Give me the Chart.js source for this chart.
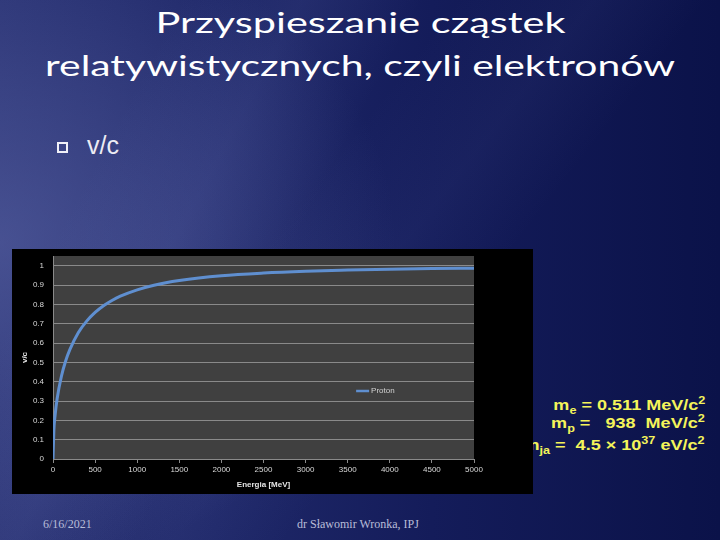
<!DOCTYPE html>
<html>
<head>
<meta charset="utf-8">
<script src="https://cdn.jsdelivr.net/npm/chart.js@4.4.1/dist/chart.umd.min.js"></script>
<style>
  html, body { margin:0; padding:0; }
  body { width:720px; height:540px; overflow:hidden; position:relative;
    background:
      linear-gradient(118deg, rgba(0,0,0,0) 18%, rgba(120,130,200,0.10) 30%, rgba(0,0,0,0) 42%),
      linear-gradient(128deg, rgba(0,0,0,0) 40%, rgba(110,120,190,0.07) 52%, rgba(0,0,0,0) 62%),
      radial-gradient(ellipse 55% 60% at 0% 45%, rgba(95,105,170,0.55), rgba(95,105,170,0) 100%),
      linear-gradient(90deg, #2a3374 0%, #1f2869 30%, #141c5a 60%, #0b1249 100%);
  }
  .title { position:absolute; left:0; width:720px; text-align:center; color:#ffffff;
    font-family: Lato, "Open Sans", sans-serif; font-size:28px; line-height:28px; white-space:nowrap; }
  .title span { display:inline-block; transform-origin:center; }
  #bullet { position:absolute; left:57px; top:142px; width:11px; height:11px; box-sizing:border-box;
    border:2px solid #f0f0f8; }
  #vc { position:absolute; left:87px; top:133px; font-family:"Liberation Sans", Arial, sans-serif;
    font-size:25px; line-height:25px; color:#ececf4; }
  .yl { position:absolute; right:15px; font-family:"Liberation Sans", Arial, sans-serif; font-weight:bold;
    font-size:15px; line-height:15px; color:#f4f45a; white-space:nowrap; transform-origin:right center; z-index:1; }
  .yl sub, .yl sup { font-size:0.7em; line-height:0; }
  #chartBox { position:absolute; left:12px; top:249px; width:521px; height:245px; background:#000; z-index:2; }
  .foot { position:absolute; font-family:"Liberation Serif", "Times New Roman", serif; font-size:12px;
    line-height:12px; color:#b9bdd8; white-space:nowrap; }
</style>
</head>
<body>
<div class="title" style="top:8px"><span id="t1">Przyspieszanie cząstek</span></div>
<div class="title" style="top:51px"><span id="t2">relatywistycznych, czyli elektronów</span></div>
<div id="bullet"></div>
<div id="vc">v/c</div>

<div class="yl" id="y1" style="top:397px">m<sub>e</sub> = 0.511 MeV/c<sup>2</sup></div>
<div class="yl" id="y2" style="top:415px">m<sub>p</sub> = &nbsp; 938 &nbsp;MeV/c<sup>2</sup></div>
<div class="yl" id="y3" style="top:437px">m<sub>ja</sub> = &nbsp;4.5 × 10<sup>37</sup> eV/c<sup>2</sup></div>

<div id="chartBox"><canvas id="c" width="521" height="245"></canvas></div>

<div class="foot" style="left:43px; top:518px">6/16/2021</div>
<div class="foot" style="left:297px; top:518px">dr Sławomir Wronka, IPJ</div>

<script>
// ---- data ----
const seriesName = "Proton";
const energyMeV = [0, 10, 25, 50, 100, 150, 200, 300, 400, 500, 600, 700, 800, 1000, 1200, 1500, 2000, 2500, 3000, 3500, 4000, 4500, 5000];
const vOverC    = [0, 0.145, 0.226, 0.314, 0.428, 0.507, 0.566, 0.653, 0.713, 0.758, 0.793, 0.820, 0.842, 0.875, 0.899, 0.923, 0.948, 0.962, 0.971, 0.977, 0.982, 0.985, 0.987];
const xTitle = "Energia [MeV]";
const yTitle = "v/c";

// ---- fit text widths (slide is horizontally stretched) ----
function fit(id, target) {
  const el = document.getElementById(id);
  const w = el.getBoundingClientRect().width;
  el.style.transform = 'scaleX(' + (target / w) + ')';
  return target / w;
}
fit('t1', 410);
fit('t2', 630);
const y1 = document.getElementById('y1');
const s = 152 / y1.getBoundingClientRect().width;
['y1','y2','y3'].forEach(id => document.getElementById(id).style.transform = 'scaleX(' + s + ')');

// ---- chart ----
const plotBg = {
  id: 'plotBg',
  beforeDraw(chart) {
    const a = chart.chartArea, ctx = chart.ctx;
    ctx.save(); ctx.fillStyle = '#404040';
    ctx.fillRect(a.left, a.top, a.right - a.left, a.bottom - a.top);
    ctx.restore();
  }
};
const innerLegend = {
  id: 'innerLegend',
  afterDraw(chart) {
    const a = chart.chartArea, ctx = chart.ctx;
    const ds = chart.data.datasets[0];
    const x = a.left + 0.72 * (a.right - a.left);
    const y = a.top + 0.665 * (a.bottom - a.top);
    ctx.save();
    ctx.strokeStyle = ds.borderColor; ctx.lineWidth = 2.5;
    ctx.beginPath(); ctx.moveTo(x, y); ctx.lineTo(x + 13, y); ctx.stroke();
    ctx.fillStyle = '#d0d0d0'; ctx.font = '8px "Liberation Sans", Arial, sans-serif';
    ctx.textBaseline = 'middle'; ctx.textAlign = 'left';
    ctx.fillText(ds.label, x + 15, y);
    ctx.restore();
  }
};

new Chart(document.getElementById('c'), {
  type: 'line',
  data: {
    datasets: [{
      label: seriesName,
      data: energyMeV.map((e, i) => ({ x: e, y: vOverC[i] })),
      borderColor: '#5f8fd0',
      borderWidth: 3,
      pointRadius: 0,
      cubicInterpolationMode: 'monotone',
      fill: false
    }]
  },
  options: {
    responsive: false,
    animation: false,
    devicePixelRatio: 1,
    layout: { padding: { top: 7, right: 59, left: 0, bottom: 0 } },
    plugins: { legend: { display: false }, tooltip: { enabled: false } },
    scales: {
      x: {
        type: 'linear', min: 0, max: 5000,
        afterFit(sc) { sc.height = 35; sc.paddingLeft = 0; sc.paddingRight = 0; },
        ticks: { stepSize: 500, color: '#d8d8d8', font: { size: 8, family: '"Liberation Sans", Arial, sans-serif' }, padding: 2, maxRotation: 0,
          callback: v => String(v) },
        grid: { drawOnChartArea: false, drawTicks: true, tickLength: 4, color: '#8a8a8a' },
        border: { color: '#8a8a8a' },
        title: { display: true, text: xTitle, color: '#e4e4e4', font: { size: 8, weight: 'bold', family: '"Liberation Sans", Arial, sans-serif' }, padding: { top: 2, bottom: 4 } }
      },
      y: {
        type: 'linear', min: 0, max: 1.05,
        afterFit(sc) { sc.width = 41; sc.paddingTop = 0; sc.paddingBottom = 0; },
        afterBuildTicks(sc) { sc.ticks = sc.ticks.filter(t => t.value <= 1.0001); },
        ticks: { stepSize: 0.1, color: '#d8d8d8', font: { size: 8, family: '"Liberation Sans", Arial, sans-serif' }, padding: 9,
          callback: v => (Math.round(v * 10) / 10).toString() },
        grid: { color: '#8a8a8a', drawTicks: false, lineWidth: 1 },
        border: { color: '#8a8a8a' },
        title: { display: true, text: yTitle, color: '#e4e4e4', font: { size: 8, weight: 'bold', family: '"Liberation Sans", Arial, sans-serif' }, padding: { top: 8, bottom: 4 } }
      }
    }
  },
  plugins: [plotBg, innerLegend]
});
</script>
</body>
</html>
